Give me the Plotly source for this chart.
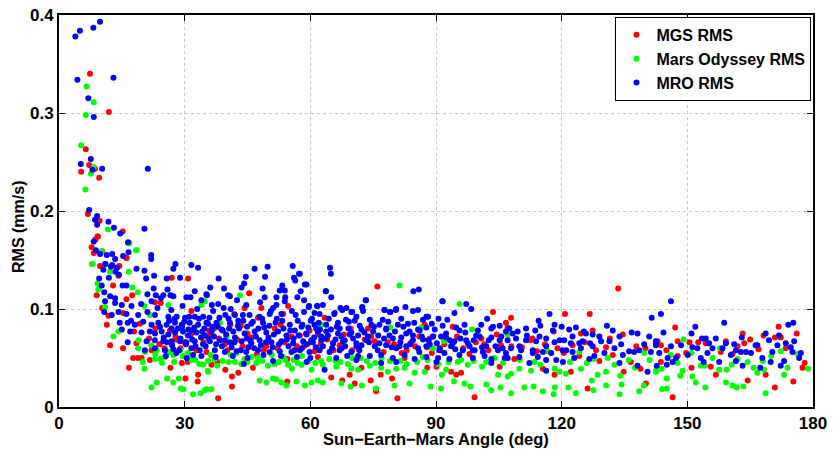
import plotly.graph_objects as go

# Sun-Earth-Mars angle (deg), RMS (mm/s) pairs
mgs_points = [
    (7.4,0.340),(11.9,0.301),(6.4,0.263),(7.2,0.247),(5.3,0.240),(8.6,0.243),(9.6,0.234),
    (6.9,0.197),(9.7,0.190),(15.2,0.179),(8.7,0.171),(9.3,0.174),(7.8,0.163),(10.3,0.159),
    (8.3,0.157),(16.1,0.152),(9.8,0.144),(14.4,0.144),(9.2,0.174),
    (16.1,0.152),(13.8,0.142),(14.2,0.134),(12.9,0.124),(9.0,0.114),(16.1,0.110),(17.5,0.114),
    (26.9,0.132),(30.8,0.131),(22.9,0.107),(24.3,0.106),(10.3,0.101),(11.8,0.093),(15.3,0.096),
    (19.3,0.085),(11.4,0.084),(17.9,0.077),(15.3,0.060),(12.2,0.063),(18.5,0.065),(17.7,0.050),
    (18.8,0.050),(19.7,0.050),(16.7,0.040),(22.1,0.058),(21.7,0.048),(26.6,0.040),(29.3,0.045),
    (30.7,0.046),(30.2,0.029),(33.1,0.026),(33.2,0.033),(28.1,0.069),(35.2,0.056),(31.6,0.098),
    (45.4,0.116),(44.3,0.101),(48.3,0.101),(54.7,0.103),(53.5,0.095),(41.8,0.095),(47.5,0.091),
    (63.4,0.091),(52.9,0.084),(43.4,0.083),(61.8,0.074),(57.5,0.073),(69.6,0.080),(36.0,0.073),
    (39.6,0.064),(49.5,0.062),(60.3,0.066),(36.4,0.043),(37.8,0.046),(39.7,0.038),(42.8,0.035),
    (41.3,0.031),(41.3,0.021),(38.0,0.009),(46.3,0.040),(61.8,0.051),(65.0,0.030),(67.6,0.027),
    (69.4,0.033),(54.5,0.026),(54.5,0.049),
    (76.0,0.123),(103.6,0.097),(94.0,0.082),(87.3,0.084),(106.7,0.086),(73.8,0.080),(75.4,0.067),
    (84.1,0.066),(87.9,0.061),(100.8,0.070),(103.2,0.046),(90.1,0.041),(87.9,0.040),(72.2,0.040),
    (74.4,0.027),(79.5,0.029),(76.8,0.033),(75.7,0.016),(80.8,0.009),(93.6,0.036),(94.8,0.033),
    (96.0,0.035),(99.2,0.010),(82.5,0.050),(70.6,0.024),(105.2,0.041),
    (133.5,0.121),(120.8,0.095),(126.7,0.095),(118.1,0.077),(124.6,0.075),(127.4,0.078),
    (134.6,0.074),(112.5,0.068),(122.6,0.063),(130.6,0.061),(142.5,0.065),(114.1,0.057),
    (120.5,0.055),(124.2,0.052),(132.2,0.053),(129.0,0.047),(136.5,0.046),(108.7,0.049),
    (115.5,0.039),(118.3,0.033),(122.2,0.036),(126.2,0.019),(134.8,0.036),(138.8,0.039),
    (140.1,0.024),(107.9,0.091),(107.1,0.081),
    (147.1,0.081),(163.2,0.075),(165.0,0.069),(168.2,0.073),(170.9,0.071),(171.8,0.082),
    (172.3,0.071),(176.1,0.075),(142.9,0.067),(143.7,0.063),(147.7,0.067),(152.6,0.066),
    (154.4,0.065),(159.2,0.067),(163.6,0.065),(147.7,0.052),(149.7,0.055),(160.8,0.054),
    (143.7,0.046),(151.0,0.040),(155.6,0.041),(156.8,0.033),(168.7,0.033),(164.4,0.027),
    (175.3,0.026),(170.9,0.020),(146.5,0.010),(177.5,0.040),
    (21.5,0.070),(24.0,0.064),(26.5,0.078),(29.0,0.060),(31.5,0.074),(34.5,0.066),(37.0,0.080),
    (40.2,0.058),(42.5,0.069),(45.0,0.075),(47.2,0.054),(50.0,0.068),(52.2,0.060),(55.5,0.072),
    (58.5,0.062),(61.0,0.057),(64.0,0.069),(67.0,0.063),(70.0,0.058),(73.0,0.069),(77.5,0.056),
    (80.0,0.064),(83.0,0.058),(86.0,0.072),(89.0,0.055),(92.0,0.064),(96.5,0.060),(99.5,0.066),
    (102.5,0.058),(105.5,0.063),(110.5,0.061),(116.0,0.064),(128.2,0.058),(137.8,0.062),
    (145.0,0.058),(158.0,0.056),(167.0,0.059),(178.0,0.045),
    (23.0,0.080),(25.2,0.060),(27.8,0.072),(30.0,0.066),(32.8,0.058),(35.8,0.078),(38.2,0.070),
    (40.9,0.084),(43.8,0.062),(46.0,0.071),(48.9,0.058),(51.5,0.080),(53.8,0.066),(56.8,0.062),
    (59.8,0.078),(62.5,0.064),(65.5,0.058),(68.0,0.074),(71.5,0.060),(74.5,0.072),(78.5,0.066),
    (81.8,0.055),(85.0,0.062),(88.5,0.070),(91.0,0.058),(95.0,0.072),(98.0,0.054),(101.5,0.064),
    (104.5,0.074),(108.0,0.062),(113.0,0.070),(119.0,0.060),(125.5,0.066),(131.5,0.070),
    (140.0,0.060),(150.5,0.066),(162.0,0.062),(173.5,0.060),
]

odyssey_points = [
    (6.6,0.327),(8.3,0.311),(6.4,0.298),(5.3,0.267),(8.3,0.245),(7.6,0.238),(6.3,0.222),
    (11.7,0.181),(16.8,0.167),(18.5,0.160),(8.0,0.146),(10.2,0.159),
    (16.5,0.167),(18.4,0.160),(7.9,0.146),(9.2,0.126),(9.4,0.120),(9.8,0.123),(12.2,0.138),
    (16.7,0.138),(18.8,0.117),(17.5,0.122),(11.0,0.102),(20.4,0.103),(21.7,0.094),(26.1,0.104),
    (34.0,0.104),(14.2,0.077),(13.0,0.072),(18.9,0.060),(20.5,0.056),(23.3,0.058),(25.3,0.051),
    (27.3,0.053),(28.9,0.058),(22.9,0.049),(24.6,0.045),(20.4,0.039),(22.1,0.020),(23.3,0.025),
    (25.8,0.029),(27.3,0.025),(28.6,0.029),(29.1,0.019),(29.7,0.018),(32.0,0.013),(33.8,0.014),
    (34.8,0.017),(34.4,0.043),(35.5,0.037),(31.6,0.048),
    (43.2,0.114),(34.8,0.108),(38.4,0.086),(40.0,0.072),(35.6,0.047),(35.6,0.036),(37.2,0.049),
    (42.0,0.046),(44.3,0.049),(47.1,0.045),(49.9,0.042),(53.5,0.051),(55.6,0.039),(57.9,0.043),
    (60.3,0.038),(62.6,0.047),(66.2,0.041),(69.8,0.039),(35.2,0.018),(36.4,0.018),(47.9,0.027),
    (49.5,0.025),(51.1,0.029),(51.9,0.028),(53.1,0.025),(54.3,0.022),(56.7,0.026),(58.7,0.022),
    (60.3,0.025),(61.8,0.027),(63.0,0.025),(67.4,0.024),(69.6,0.021),(62.6,0.084),(54.7,0.043),
    (42.4,0.055),
    (81.3,0.124),(95.6,0.105),(79.1,0.081),(86.5,0.081),(91.9,0.067),(98.6,0.079),(89.3,0.060),
    (71.4,0.038),(74.2,0.042),(76.9,0.040),(78.5,0.036),(80.5,0.039),(82.5,0.040),(84.9,0.035),
    (87.3,0.036),(92.4,0.038),(95.2,0.046),(97.6,0.043),(102.0,0.046),(104.8,0.033),(107.1,0.031),
    (72.3,0.022),(75.7,0.019),(80.1,0.022),(83.7,0.024),(88.7,0.021),(91.2,0.019),(94.3,0.026),
    (96.8,0.024),(98.2,0.021),(102.0,0.023),(103.2,0.017),(105.4,0.020),(91.4,0.033),
    (107.1,0.074),(116.7,0.057),(124.2,0.056),(127.6,0.049),(139.7,0.055),(107.9,0.034),
    (109.9,0.039),(112.7,0.037),(114.9,0.043),(118.3,0.039),(119.5,0.036),(121.0,0.034),
    (124.6,0.039),(127.2,0.027),(128.6,0.033),(130.6,0.036),(132.6,0.043),(134.0,0.032),
    (137.5,0.040),(139.6,0.022),(142.5,0.036),(107.9,0.014),(111.1,0.020),(113.3,0.021),
    (115.5,0.016),(118.1,0.013),(118.4,0.020),(121.6,0.020),(123.4,0.014),(127.6,0.017),
    (130.6,0.022),(133.8,0.013),(134.3,0.023),(138.5,0.016),
    (149.1,0.069),(157.8,0.060),(172.3,0.057),(176.3,0.054),(142.5,0.037),(143.9,0.039),
    (147.7,0.045),(148.9,0.037),(148.3,0.032),(153.2,0.042),(154.2,0.042),(157.6,0.038),
    (159.4,0.038),(160.6,0.043),(164.4,0.046),(165.8,0.040),(166.7,0.035),(168.3,0.038),
    (173.1,0.033),(173.9,0.040),(178.8,0.039),(145.1,0.029),(151.2,0.031),(152.0,0.025),
    (159.2,0.025),(160.8,0.022),(161.8,0.020),(163.4,0.021),(144.0,0.018),(145.1,0.019),
    (154.3,0.020),(168.7,0.014),
    (19.0,0.068),(22.0,0.063),(24.2,0.049),(26.4,0.056),(29.5,0.052),(32.5,0.048),(36.2,0.053),
    (39.0,0.047),(41.0,0.053),(43.5,0.044),(46.0,0.051),(48.5,0.047),(50.8,0.053),(52.5,0.046),
    (56.0,0.048),(58.0,0.052),(61.2,0.045),(64.5,0.049),(67.2,0.046),(70.0,0.050),(73.5,0.047),
    (77.0,0.050),(81.5,0.047),(85.5,0.046),(88.0,0.048),(93.0,0.046),(99.0,0.047),(104.0,0.050),
    (110.0,0.048),(122.0,0.046),(131.0,0.050),(136.0,0.048),(146.0,0.053),(151.0,0.055),
    (162.0,0.049),(170.0,0.052),
    (20.0,0.046),(23.0,0.054),(27.5,0.046),(30.8,0.055),(33.5,0.044),(37.8,0.042),(40.5,0.046),
    (45.0,0.046),(47.5,0.050),(51.5,0.044),(54.0,0.048),(57.0,0.045),(59.5,0.047),(63.0,0.043),
    (66.0,0.047),(69.0,0.044),(72.0,0.050),(75.5,0.045),(79.0,0.047),(83.0,0.044),(86.8,0.051),
    (90.5,0.044),(96.0,0.048),(101.0,0.041),(106.0,0.045),(113.5,0.046),(126.0,0.045),
    (141.0,0.048),(156.0,0.050),(168.0,0.047),
]

mro_points = [
    (3.9,0.378),(5.0,0.384),(8.2,0.387),(9.8,0.393),(4.4,0.334),(13.0,0.336),(7.0,0.315),
    (8.3,0.296),(7.6,0.253),(5.2,0.248),(8.0,0.242),(10.3,0.243),(21.2,0.243),(7.2,0.201),
    (9.1,0.195),(8.6,0.191),(9.1,0.186),(11.8,0.189),(13.1,0.183),(14.6,0.177),(20.4,0.182),
    (8.3,0.169),(16.5,0.168),(8.8,0.160),(9.8,0.156),(11.4,0.155),(12.7,0.156),(16.6,0.158),
    (13.4,0.151),(15.3,0.154),(22.0,0.155),(22.0,0.151),(11.0,0.146),(12.7,0.145),(27.8,0.146),
    (31.6,0.145),(33.2,0.142),(18.5,0.141),(27.3,0.141),(46.7,0.141),(49.8,0.143),(55.8,0.144),
    (64.7,0.142),(13.8,0.142),
    (11.1,0.146),(12.4,0.143),(10.6,0.140),(13.5,0.138),(20.4,0.139),(9.6,0.131),(11.9,0.132),
    (14.3,0.135),(20.8,0.131),(22.7,0.134),(25.7,0.131),(28.9,0.132),(10.2,0.124),(15.2,0.124),
    (16.1,0.124),(22.6,0.121),(25.9,0.120),(32.4,0.118),(10.8,0.117),(12.2,0.113),(13.4,0.111),
    (21.1,0.115),(23.1,0.114),(24.9,0.114),(26.6,0.114),(27.3,0.113),(30.4,0.112),(31.4,0.112),
    (34.0,0.109),(35.3,0.114),(11.0,0.108),(13.4,0.106),(15.0,0.104),(17.3,0.103),(19.6,0.105),
    (22.1,0.108),(24.3,0.111),(10.8,0.097),(12.6,0.094),(14.2,0.097),(16.1,0.095),(17.2,0.088),
    (18.9,0.094),(21.1,0.097),(22.9,0.094),(26.1,0.092),(28.1,0.092),(30.1,0.091),(32.4,0.092),
    (34.4,0.092),(14.5,0.086),(16.4,0.086),(18.1,0.084),(20.1,0.087),(22.1,0.084),(23.7,0.086),
    (25.7,0.084),(27.7,0.086),(29.3,0.084),(31.2,0.086),(33.2,0.084),(35.2,0.086),(15.0,0.079),
    (17.0,0.077),(19.7,0.076),(21.7,0.077),(22.9,0.075),(24.5,0.077),(26.1,0.074),(27.7,0.076),
    (29.6,0.077),(30.8,0.073),(32.8,0.076),(34.8,0.073),(20.9,0.067),(22.9,0.068),(24.9,0.067),
    (26.9,0.067),(28.9,0.067),(30.4,0.066),(32.4,0.067),(34.4,0.064),(16.4,0.066),(20.5,0.058),
    (22.9,0.060),(25.3,0.058),(27.3,0.059),(31.6,0.060),(33.6,0.058),(32.0,0.053),
    (64.9,0.136),(38.1,0.131),(44.6,0.133),(49.2,0.133),(56.1,0.132),(56.4,0.129),(57.3,0.136),
    (59.1,0.125),(36.1,0.122),(39.4,0.121),(43.6,0.122),(44.2,0.126),(48.6,0.121),(53.3,0.124),
    (52.7,0.119),(53.9,0.119),(57.7,0.118),(63.7,0.118),(65.0,0.112),(35.2,0.115),(40.4,0.114),
    (40.8,0.113),(42.5,0.109),(49.1,0.112),(51.9,0.112),(53.9,0.108),(56.9,0.112),(38.0,0.105),
    (39.3,0.101),(51.1,0.101),(51.9,0.104),(55.6,0.098),(59.6,0.102),(61.7,0.103),(63.0,0.104),
    (67.2,0.101),(68.6,0.101),(69.8,0.097),(36.8,0.098),(39.7,0.094),(42.0,0.094),(43.9,0.094),
    (45.5,0.094),(47.9,0.092),(50.3,0.095),(53.1,0.095),(56.5,0.094),(58.5,0.097),(60.4,0.090),
    (62.2,0.095),(65.7,0.095),(66.6,0.086),(69.2,0.087),(35.6,0.085),(37.6,0.086),(40.8,0.086),
    (42.8,0.088),(45.9,0.085),(48.7,0.086),(51.7,0.086),(55.1,0.084),(57.9,0.082),(61.0,0.084),
    (63.8,0.084),(36.4,0.077),(38.8,0.079),(41.6,0.077),(44.3,0.075),(46.7,0.077),(49.5,0.076),
    (52.3,0.077),(54.3,0.073),(56.3,0.078),(59.1,0.074),(61.8,0.077),(64.2,0.073),(66.6,0.075),
    (69.8,0.076),(36.0,0.067),(38.4,0.068),(40.8,0.066),(43.6,0.067),(45.9,0.065),(47.9,0.068),
    (50.7,0.066),(53.1,0.067),(55.9,0.065),(58.3,0.067),(60.6,0.066),(62.6,0.068),(65.4,0.065),
    (67.8,0.067),(71.0,0.065),(37.2,0.058),(39.6,0.056),(42.4,0.057),(44.7,0.056),(47.5,0.058),
    (50.3,0.056),(52.7,0.057),(55.5,0.056),(57.5,0.058),(59.8,0.056),(62.2,0.058),(64.6,0.056),
    (67.0,0.058),(69.8,0.056),(44.1,0.044),(59.1,0.046),(63.4,0.038),(51.1,0.047),
    (84.6,0.118),(85.9,0.120),(73.3,0.109),(91.6,0.108),(97.2,0.105),(98.4,0.100),(72.4,0.101),
    (72.6,0.098),(77.7,0.099),(79.0,0.097),(80.4,0.099),(82.7,0.102),(81.7,0.090),(71.0,0.092),
    (74.2,0.089),(77.3,0.089),(83.3,0.085),(86.9,0.089),(87.7,0.092),(90.6,0.090),(92.7,0.089),
    (102.2,0.090),(94.4,0.096),(71.8,0.083),(74.6,0.084),(76.5,0.084),(78.1,0.080),(80.9,0.084),
    (83.7,0.077),(85.7,0.079),(87.7,0.081),(89.7,0.079),(91.6,0.083),(94.8,0.081),(96.8,0.084),
    (100.8,0.084),(103.2,0.080),(105.2,0.083),(106.7,0.077),(71.4,0.073),(73.8,0.072),(76.2,0.073),
    (78.9,0.073),(81.7,0.071),(84.5,0.073),(86.9,0.069),(89.3,0.072),(92.4,0.071),(94.4,0.067),
    (97.6,0.065),(99.6,0.073),(103.2,0.071),(105.6,0.072),(72.2,0.063),(75.4,0.062),(78.1,0.063),
    (80.5,0.060),(82.9,0.062),(85.7,0.060),(88.5,0.064),(90.9,0.060),(93.6,0.062),(96.4,0.058),
    (99.2,0.058),(101.2,0.056),(104.8,0.058),(71.4,0.052),(74.2,0.052),(76.9,0.053),(79.7,0.050),
    (82.5,0.053),(84.9,0.049),(87.7,0.051),(90.5,0.050),(93.2,0.049),(95.6,0.053),(98.8,0.050),
    (101.6,0.052),(103.2,0.049),(106.4,0.050),(71.0,0.048),(76.9,0.045),(80.5,0.046),(90.1,0.046),
    (103.2,0.045),
    (117.1,0.095),(141.5,0.091),(114.5,0.088),(107.5,0.080),(109.5,0.077),(111.5,0.080),
    (113.7,0.078),(114.9,0.083),(118.3,0.084),(120.0,0.082),(121.8,0.079),(123.4,0.081),
    (125.3,0.077),(127.4,0.074),(129.0,0.072),(130.8,0.083),(132.2,0.078),(133.8,0.072),
    (136.7,0.076),(138.1,0.075),(140.9,0.072),(107.1,0.068),(109.1,0.070),(111.7,0.073),
    (113.9,0.067),(116.3,0.070),(118.3,0.066),(120.6,0.068),(122.2,0.065),(125.0,0.067),
    (126.8,0.065),(129.4,0.067),(131.4,0.067),(134.2,0.064),(136.1,0.057),(138.5,0.058),
    (139.7,0.064),(142.5,0.067),(107.9,0.060),(110.3,0.058),(113.1,0.058),(115.5,0.056),
    (117.5,0.055),(120.2,0.058),(122.6,0.056),(124.6,0.060),(127.8,0.052),(130.2,0.055),
    (132.6,0.060),(134.6,0.053),(137.3,0.056),(141.3,0.056),(107.1,0.050),(109.9,0.051),
    (112.3,0.045),(114.3,0.051),(116.3,0.048),(118.7,0.048),(120.3,0.046),(123.0,0.050),
    (126.6,0.049),(133.8,0.045),(138.1,0.042),(116.3,0.037),(140.5,0.036),
    (146.1,0.108),(143.7,0.095),(158.8,0.086),(151.9,0.082),(174.1,0.084),(175.3,0.086),
    (144.3,0.076),(151.0,0.075),(153.5,0.070),(154.4,0.070),(156.8,0.070),(159.2,0.065),
    (161.2,0.064),(163.0,0.071),(166.3,0.063),(168.7,0.075),(169.5,0.068),(171.9,0.073),
    (173.5,0.065),(175.5,0.067),(142.5,0.063),(146.1,0.062),(148.5,0.063),(151.2,0.061),
    (152.4,0.060),(155.2,0.065),(156.0,0.060),(158.4,0.060),(161.6,0.058),(164.0,0.056),
    (166.7,0.063),(170.3,0.056),(171.5,0.063),(174.7,0.061),(177.1,0.055),(143.3,0.055),
    (145.3,0.050),(147.3,0.050),(150.1,0.053),(153.2,0.050),(154.8,0.055),(157.6,0.046),
    (160.4,0.053),(162.8,0.056),(165.2,0.055),(167.9,0.050),(169.9,0.046),(173.1,0.047),
    (175.1,0.056),(176.7,0.050),(142.7,0.042),(145.1,0.043),(146.5,0.046),(153.9,0.046),
    (161.6,0.047),(163.2,0.042),(167.4,0.040),(172.3,0.042),
    (24.1,0.082),(25.0,0.071),(26.3,0.088),(27.0,0.063),(28.4,0.080),(29.0,0.070),(29.9,0.087),
    (30.9,0.079),(31.8,0.069),(32.3,0.081),(33.9,0.071),(34.7,0.080),(35.9,0.091),(37.0,0.072),
    (37.9,0.082),(38.9,0.062),(39.9,0.074),(40.5,0.090),(41.2,0.061),(42.0,0.071),(43.0,0.080),
    (44.8,0.070),(45.2,0.061),(46.3,0.087),(47.0,0.072),(48.2,0.063),(49.0,0.081),(50.0,0.071),
    (51.0,0.061),(52.0,0.090),(53.6,0.080),(54.8,0.062),(56.0,0.070),(57.0,0.088),(58.0,0.060),
    (59.5,0.081),(60.9,0.071),(62.0,0.086),(63.0,0.062),(64.9,0.079),(66.0,0.069),(67.5,0.060),
    (68.5,0.089),(70.2,0.070),
    (23.5,0.101),(26.8,0.099),(29.5,0.103),(33.0,0.100),(36.5,0.104),(41.0,0.100),(44.7,0.104),
    (48.0,0.107),(50.6,0.098),(54.0,0.112),(58.5,0.109),(61.0,0.096),
    (25.5,0.052),(28.0,0.055),(30.5,0.050),(34.0,0.052),(37.4,0.051),(41.5,0.052),(45.0,0.050),
    (48.8,0.053),(53.0,0.052),(56.8,0.051),(60.0,0.050),(66.2,0.050),(68.8,0.052),
    (57.5,0.136),(58.7,0.125),(63.7,0.118),(73.2,0.109),(59.7,0.103),(61.6,0.103),
    (65.8,0.096),(67.6,0.099),(70.0,0.097),(72.4,0.102),(77.7,0.099),(79.1,0.097),(80.5,0.100),
    (84.5,0.098),(85.7,0.099),(88.1,0.092),(91.5,0.108),
    (59.0,0.075),(60.2,0.068),(61.4,0.080),(62.6,0.072),(63.8,0.077),(65.4,0.065),(67.0,0.080),
    (68.2,0.068),(69.4,0.074),(71.0,0.062),(72.2,0.079),(73.4,0.068),(75.0,0.077),(76.5,0.065),
    (78.1,0.079),(79.7,0.070),(81.3,0.062),(82.9,0.075),(84.5,0.068),(86.1,0.078),(87.7,0.062),
    (89.3,0.072),(90.8,0.058),(92.4,0.075),(94.0,0.065),(95.6,0.078),(97.2,0.068),(98.8,0.058),
    (100.4,0.072),(102.0,0.062),(103.6,0.082),(105.2,0.068),(106.7,0.055),(108.3,0.075),
    (109.9,0.062),(111.5,0.068),(113.1,0.055),(114.7,0.072),(116.3,0.062),(117.9,0.078),
    (119.5,0.068),(121.1,0.058),(122.6,0.072),(124.2,0.065),(125.8,0.075),(127.4,0.062),
    (25.8,0.066),(26.9,0.080),(27.6,0.090),(28.7,0.058),(29.4,0.082),(30.3,0.064),(31.1,0.092),
    (31.7,0.078),(32.6,0.062),(33.4,0.090),(34.2,0.077),(35.0,0.062),(35.7,0.070),(36.6,0.082),
    (37.5,0.064),(38.3,0.091),(39.1,0.078),(39.6,0.068),(40.6,0.080),(41.9,0.066),(42.7,0.083),
    (43.4,0.058),(44.0,0.088),(44.9,0.082),(45.7,0.068),(46.6,0.060),(47.6,0.080),(48.5,0.090),
    (49.4,0.066),(50.2,0.083),(51.3,0.074),(52.5,0.064),(53.3,0.088),(54.4,0.069),(55.2,0.078),
    (56.2,0.058),(57.2,0.073),(58.1,0.084),(59.2,0.064),(60.1,0.088),(61.3,0.061),(62.3,0.079),
    (63.5,0.070),(64.4,0.090),(65.2,0.060),(66.3,0.082),(67.4,0.072),(68.3,0.062),(69.1,0.080),
    (70.6,0.088),(71.7,0.058),(72.9,0.076),(74.0,0.066),(75.2,0.082),(76.1,0.058),(77.6,0.070),
    (78.6,0.087),(79.4,0.061),(80.2,0.077),(81.5,0.066),(82.2,0.082),(83.8,0.064),(84.8,0.086),
    (86.0,0.056),(86.6,0.072),(88.2,0.068),(89.0,0.085),(90.2,0.065),(91.2,0.072),(92.0,0.055),
    (93.3,0.068),(94.6,0.059),(95.8,0.070),(97.0,0.076),(98.0,0.062),(99.0,0.068),(100.0,0.078),
    (101.0,0.061),(102.6,0.068),(104.2,0.062),(105.9,0.060),
]

series_names = ["MGS RMS", "Mars Odyssey RMS", "MRO RMS"]
series_colors = ["#ff0000", "#00ff00", "#0000ff"]
x_ticks = [0, 30, 60, 90, 120, 150, 180]
y_ticks = [0, 0.1, 0.2, 0.3, 0.4]
y_tick_labels = ["0", "0.1", "0.2", "0.3", "0.4"]
x_title = "Sun\u2212Earth\u2212Mars Angle (deg)"
y_title = "RMS (mm/s)"

FONT = "Liberation Sans, Arial, Helvetica, sans-serif"

fig = go.Figure()
for name, color, pts in zip(series_names, series_colors,
                            [mgs_points, odyssey_points, mro_points]):
    fig.add_trace(go.Scatter(
        x=[p[0] for p in pts], y=[p[1] for p in pts],
        mode="markers", name="<b>%s</b>" % name,
        marker=dict(color=color, size=6, line=dict(width=0)),
    ))

axis_common = dict(
    showline=True, linecolor="black", linewidth=2, mirror="allticks",
    ticks="inside", ticklen=6, tickwidth=1, tickcolor="black",
    showgrid=True, gridcolor="#c8c8c8", griddash="dot", gridwidth=1,
    zeroline=False, automargin=False, ticklabeloverflow="allow",
    tickfont=dict(family=FONT, size=17, color="black"),
)

fig.update_xaxes(
    range=[0, 180], tickvals=x_ticks,
    ticktext=["<b>%d</b>" % t for t in x_ticks],
    **axis_common,
)
fig.update_yaxes(
    range=[0, 0.4], tickvals=y_ticks,
    ticktext=["<b>%s</b>" % t for t in y_tick_labels],
    **axis_common,
)

fig.add_annotation(
    text="<b>%s</b>" % x_title, xref="paper", yref="paper",
    x=0.5, y=-0.081, xanchor="center", yanchor="middle", showarrow=False,
    font=dict(family=FONT, size=16.5, color="black"),
)
fig.add_annotation(
    text="<b>%s</b>" % y_title, xref="paper", yref="paper",
    x=-0.054, y=0.46, xanchor="center", yanchor="middle", showarrow=False,
    textangle=-90, font=dict(family=FONT, size=16, color="black"),
)

fig.update_layout(
    width=834, height=450,
    margin=dict(l=59, r=21, t=15, b=43),
    plot_bgcolor="white", paper_bgcolor="white",
    showlegend=True,
    legend=dict(
        x=0.998, y=0.995, xanchor="right", yanchor="top",
        bgcolor="white", bordercolor="black", borderwidth=1,
        font=dict(family=FONT, size=16, color="black"),
        tracegroupgap=0, itemwidth=30,
    ),
)

# remove the default page margin so the figure fills the 834x450 window exactly
fig.write_html("out.html", config={"displayModeBar": False},
               post_script="document.body.style.margin='0px';document.body.style.overflow='hidden';")
